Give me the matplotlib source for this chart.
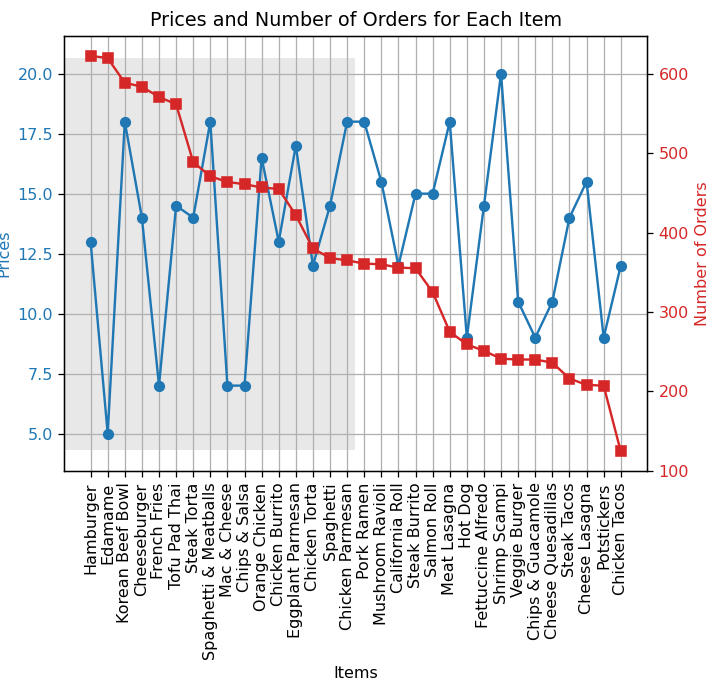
import numpy as np
from matplotlib import pyplot as plt

items = ['Hamburger', 'Edamame', 'Korean Beef Bowl', 'Cheeseburger', 'French Fries',
	'Tofu Pad Thai', 'Steak Torta', 'Spaghetti & Meatballs', 'Mac & Cheese', 'Chips & Salsa',
	'Orange Chicken', 'Chicken Burrito', 'Eggplant Parmesan', 'Chicken Torta', 'Spaghetti',
	'Chicken Parmesan', 'Pork Ramen', 'Mushroom Ravioli', 'California Roll', 'Steak Burrito',
	'Salmon Roll', 'Meat Lasagna', 'Hot Dog', 'Fettuccine Alfredo', 'Shrimp Scampi',
	'Veggie Burger', 'Chips & Guacamole', 'Cheese Quesadillas', 'Steak Tacos', 'Cheese Lasagna',
	'Potstickers', 'Chicken Tacos']
prices = [13, 5, 18, 14, 7, 14.5, 14, 18, 7, 7,
	16.5, 13, 17, 12, 14.5, 18, 18, 15.5, 12, 15,
	15, 18, 9, 14.5, 20, 10.5, 9, 10.5, 14, 15.5,
	9, 12]
orders = [623, 620, 589, 584, 571, 562, 489, 471, 464, 461,
	457, 455, 422, 380, 368, 365, 361, 360, 356, 355,
	325, 275, 259, 251, 241, 240, 240, 236, 216, 208,
	207, 124]

x = np.arange(len(items))

fig, ax1 = plt.subplots(figsize = (720 / 115.0, 686 / 115.0), dpi = 115)
fig.subplots_adjust(left = 0.089, right = 0.899, bottom = 0.313, top = 0.9475)

ax1.plot(x, prices, marker = 'o', color = 'tab:blue')
ax1.set_xlabel('Items')
ax1.set_ylabel('Prices', color = 'tab:blue')
ax1.tick_params(axis = 'y', labelcolor = 'tab:blue')
ax1.set_xticks(x)
ax1.set_xticklabels(items, rotation = 90)
ax1.grid(True)
ax1.set_ylim(3.43, 21.57)
ax1.set_xlim(-1.55, 32.55)
# shaded block behind the first half of the items
ax1.axvspan(-1.55, 15.45, ymin = 0.05, ymax = 0.95, color = 'lightgray', alpha = 0.5, lw = 0)

ax2 = ax1.twinx()
ax2.plot(x, orders, marker = 's', color = 'tab:red')
ax2.set_ylabel('Number of Orders', color = 'tab:red')
ax2.tick_params(axis = 'y', labelcolor = 'tab:red')

plt.title('Prices and Number of Orders for Each Item')
plt.savefig('out.png')
plt.close()
